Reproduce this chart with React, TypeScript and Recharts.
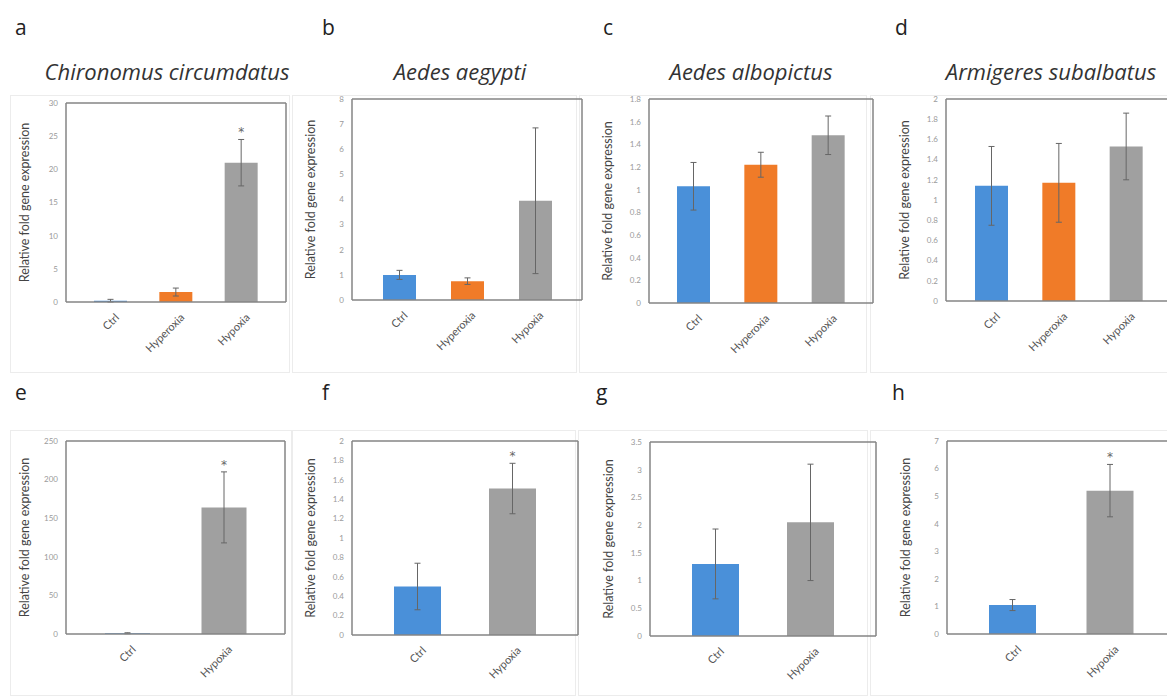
import React from "react"
import { Bar, BarChart, Cell, ErrorBar, LabelList, XAxis, YAxis } from "recharts"

// categories
const threeGroups = ["Ctrl", "Hyperoxia", "Hypoxia"]
const twoGroups = ["Ctrl", "Hypoxia"]

// panel a - Chironomus circumdatus
const aValues = [0.2, 1.5, 21.0]
const aErrors = [0.2, 0.6, 3.5]
const aStars = ["", "", "*"]
const aTicks = [0, 5, 10, 15, 20, 25, 30]

// panel b - Aedes aegypti
const bValues = [1.0, 0.75, 3.95]
const bErrors = [0.18, 0.13, 2.9]
const bStars = ["", "", ""]
const bTicks = [0, 1, 2, 3, 4, 5, 6, 7, 8]

// panel c - Aedes albopictus
const cValues = [1.03, 1.22, 1.48]
const cErrors = [0.21, 0.11, 0.17]
const cStars = ["", "", ""]
const cTicks = [0, 0.2, 0.4, 0.6, 0.8, 1, 1.2, 1.4, 1.6, 1.8]

// panel d - Armigeres subalbatus
const dValues = [1.14, 1.17, 1.53]
const dErrors = [0.39, 0.39, 0.33]
const dStars = ["", "", ""]
const dTicks = [0, 0.2, 0.4, 0.6, 0.8, 1, 1.2, 1.4, 1.6, 1.8, 2]

// panels e-h (Ctrl vs Hypoxia)
const eValues = [1, 164]
const eErrors = [0.6, 46]
const eStars = ["", "*"]
const eTicks = [0, 50, 100, 150, 200, 250]

const fValues = [0.5, 1.51]
const fErrors = [0.24, 0.26]
const fStars = ["", "*"]
const fTicks = [0, 0.2, 0.4, 0.6, 0.8, 1, 1.2, 1.4, 1.6, 1.8, 2]

const gValues = [1.3, 2.05]
const gErrors = [0.63, 1.05]
const gStars = ["", ""]
const gTicks = [0, 0.5, 1, 1.5, 2, 2.5, 3, 3.5]

const hValues = [1.05, 5.2]
const hErrors = [0.2, 0.95]
const hStars = ["", "*"]
const hTicks = [0, 1, 2, 3, 4, 5, 6, 7]

const Y_LABEL = "Relative fold gene expression"

const groupColors: Record<string, string> = {
  Ctrl: "#4a90d9",
  Hyperoxia: "#f07b28",
  Hypoxia: "#a0a0a0",
}

const AXIS_W = 82
const TOP_M = 8
const TOP_H = 2
const BOTTOM_H = 62
const RIGHT_W = 2
const BOX = "#858585"

type Box = { x: number; y: number; w: number; h: number }

type PanelProps = {
  categories: string[]
  values: number[]
  errors: number[]
  stars: string[]
  ticks: number[]
  box: Box
  barSize: number
  pad: number
}

function XTick(props: any) {
  const { x, y, payload } = props
  const tx = x + 3
  const ty = y + 2
  return (
    <text
      x={tx}
      y={ty}
      transform={`rotate(-45 ${tx} ${ty})`}
      textAnchor="end"
      dominantBaseline="hanging"
      fontSize={11}
      fontFamily="Lato, 'Open Sans', sans-serif"
      fill="#555"
    >
      {payload.value}
    </text>
  )
}

function Panel({ categories, values, errors, stars, ticks, box, barSize, pad }: PanelProps) {
  const data = categories.map((c, i) => ({
    group: c,
    value: values[i],
    err: errors[i],
    star: stars[i],
  }))
  const yMax = ticks[ticks.length - 1]

  // asterisk sits a little above the top of the error bar
  const renderStar = (p: any) => {
    const i = p.index
    if (!stars[i]) return null
    const perUnit = p.height / values[i]
    const top = p.y - errors[i] * perUnit
    return (
      <text
        x={p.x + p.width / 2}
        y={top - 3}
        textAnchor="middle"
        fontSize={12}
        fontFamily="'DejaVu Sans', sans-serif"
        fill="#666"
      >
        *
      </text>
    )
  }

  return (
    <div
      style={{
        position: "absolute",
        left: box.x - AXIS_W,
        top: box.y - TOP_M - TOP_H,
      }}
    >
      <BarChart
        width={AXIS_W + box.w + RIGHT_W}
        height={TOP_M + TOP_H + box.h + BOTTOM_H}
        data={data}
        margin={{ top: TOP_M, right: 0, bottom: 0, left: 0 }}
      >
        <XAxis
          dataKey="group"
          height={BOTTOM_H}
          padding={{ left: pad, right: pad }}
          axisLine={{ stroke: BOX, strokeWidth: 1.5 }}
          tickLine={false}
          interval={0}
          tick={<XTick />}
        />
        <XAxis
          xAxisId="top"
          dataKey="group"
          orientation="top"
          height={TOP_H}
          axisLine={{ stroke: BOX, strokeWidth: 1.5 }}
          tickLine={false}
          tick={false}
        />
        <YAxis
          width={AXIS_W}
          domain={[0, yMax]}
          ticks={ticks}
          interval={0}
          axisLine={{ stroke: BOX, strokeWidth: 1.5 }}
          tickLine={false}
          tick={{ fontSize: 8, fill: "#9a9a9a", fontFamily: "Lato, sans-serif" }}
          label={{
            value: Y_LABEL,
            angle: -90,
            position: "center",
            dx: 0,
            fontSize: 12.5,
            fill: "#444",
            fontFamily: "Lato, 'Open Sans', sans-serif",
          }}
        />
        <YAxis
          yAxisId="right"
          orientation="right"
          width={RIGHT_W}
          domain={[0, yMax]}
          axisLine={{ stroke: BOX, strokeWidth: 1.5 }}
          tickLine={false}
          tick={false}
        />
        <Bar dataKey="value" barSize={barSize} isAnimationActive={false}>
          {data.map((d) => (
            <Cell key={d.group} fill={groupColors[d.group]} />
          ))}
          <ErrorBar dataKey="err" width={3} stroke="#666" strokeWidth={1} direction="y" />
          <LabelList dataKey="star" content={renderStar} />
        </Bar>
      </BarChart>
    </div>
  )
}

// panel letters, titles and faint chart-area frames
const letters = [
  { t: "a", x: 15, y: 35 },
  { t: "b", x: 322, y: 35 },
  { t: "c", x: 603, y: 35 },
  { t: "d", x: 895, y: 35 },
  { t: "e", x: 15, y: 400 },
  { t: "f", x: 322, y: 400 },
  { t: "g", x: 596, y: 400 },
  { t: "h", x: 892, y: 400 },
]

const titles = [
  { t: "Chironomus circumdatus", x: 167 },
  { t: "Aedes aegypti", x: 460 },
  { t: "Aedes albopictus", x: 751 },
  { t: "Armigeres subalbatus", x: 1051 },
]

const frames = [
  { x: 10, y: 95, w: 280, h: 278 },
  { x: 292, y: 95, w: 285, h: 278 },
  { x: 579, y: 95, w: 288, h: 278 },
  { x: 870, y: 95, w: 300, h: 278 },
  { x: 10, y: 430, w: 282, h: 266 },
  { x: 292, y: 430, w: 284, h: 266 },
  { x: 578, y: 430, w: 290, h: 266 },
  { x: 870, y: 430, w: 300, h: 266 },
]

export default function App() {
  return (
    <div
      style={{
        position: "absolute",
        left: 0,
        top: 0,
        width: 1167,
        height: 700,
        overflow: "hidden",
        background: "#fff",
      }}
    >
      {frames.map((f, i) => (
        <div
          key={i}
          style={{
            position: "absolute",
            left: f.x,
            top: f.y,
            width: f.w,
            height: f.h,
            border: "1px solid #ececec",
            boxSizing: "border-box",
          }}
        />
      ))}
      <svg
        width={1167}
        height={700}
        style={{ position: "absolute", left: 0, top: 0, pointerEvents: "none" }}
      >
        {letters.map((l) => (
          <text key={l.t} x={l.x} y={l.y} fontSize={21} fontFamily="'Open Sans', sans-serif" fill="#222">
            {l.t}
          </text>
        ))}
        {titles.map((t) => (
          <text
            key={t.t}
            x={t.x}
            y={80}
            textAnchor="middle"
            fontSize={22}
            fontStyle="italic"
            fontFamily="'Open Sans', sans-serif"
            fill="#333"
          >
            {t.t}
          </text>
        ))}
      </svg>

      <Panel categories={threeGroups} values={aValues} errors={aErrors} stars={aStars} ticks={aTicks}
        box={{ x: 66, y: 103, w: 220, h: 199 }} barSize={33} pad={12} />
      <Panel categories={threeGroups} values={bValues} errors={bErrors} stars={bStars} ticks={bTicks}
        box={{ x: 352, y: 99, w: 230, h: 201 }} barSize={33} pad={13} />
      <Panel categories={threeGroups} values={cValues} errors={cErrors} stars={cStars} ticks={cTicks}
        box={{ x: 649, y: 99, w: 224, h: 204 }} barSize={33} pad={11} />
      <Panel categories={threeGroups} values={dValues} errors={dErrors} stars={dStars} ticks={dTicks}
        box={{ x: 946, y: 99, w: 226, h: 202 }} barSize={33} pad={12} />

      <Panel categories={twoGroups} values={eValues} errors={eErrors} stars={eStars} ticks={eTicks}
        box={{ x: 66, y: 441, w: 219, h: 193 }} barSize={45} pad={13} />
      <Panel categories={twoGroups} values={fValues} errors={fErrors} stars={fStars} ticks={fTicks}
        box={{ x: 352, y: 441, w: 226, h: 194 }} barSize={47} pad={18} />
      <Panel categories={twoGroups} values={gValues} errors={gErrors} stars={gStars} ticks={gTicks}
        box={{ x: 650, y: 442, w: 226, h: 194 }} barSize={47} pad={18} />
      <Panel categories={twoGroups} values={hValues} errors={hErrors} stars={hStars} ticks={hTicks}
        box={{ x: 947, y: 441, w: 229, h: 193 }} barSize={47} pad={17} />
    </div>
  )
}
